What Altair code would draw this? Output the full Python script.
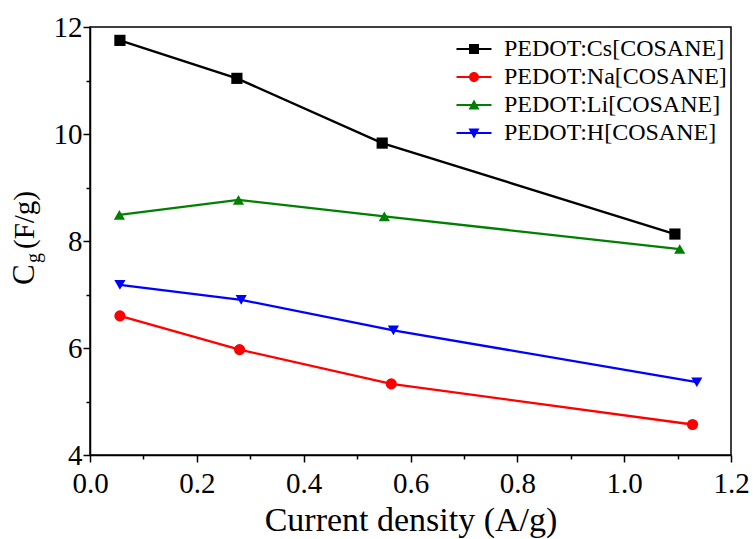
import altair as alt
import pandas as pd

# ---- data ----
series_names = ["PEDOT:Cs[COSANE]", "PEDOT:Na[COSANE]", "PEDOT:Li[COSANE]", "PEDOT:H[COSANE]"]
series_colors = ["#000000", "#FF0000", "#008000", "#0000FF"]
series_shapes = ["square", "circle", "triangle-up", "triangle-down"]

x_cs = [0.056, 0.275, 0.547, 1.095]
y_cs = [11.75, 11.04, 9.83, 8.13]
x_na = [0.056, 0.280, 0.564, 1.128]
y_na = [6.60, 5.97, 5.33, 4.57]
x_li = [0.055, 0.278, 0.551, 1.104]
y_li = [8.49, 8.77, 8.46, 7.85]
x_h = [0.056, 0.283, 0.568, 1.136]
y_h = [7.18, 6.90, 6.33, 5.36]

x_ticks = [0.0, 0.1, 0.2, 0.3, 0.4, 0.5, 0.6, 0.7, 0.8, 0.9, 1.0, 1.1, 1.2]
y_ticks = [4, 5, 6, 7, 8, 9, 10, 11, 12]

x_title = "Current density (A/g)"
y_title_main = ["C"]
y_title_sub = ["g"]
y_title_unit = ["(F/g)"]

# legend symbols: short line + marker (custom paths, unit box)
line_part = "M-1.75,-0.11H1.75V0.11H-1.75Z"
legend_paths = [
    line_part + "M-0.5,-0.5H0.5V0.5H-0.5Z",
    line_part + "M0.5,0A0.5,0.5 0 1,1 -0.5,0A0.5,0.5 0 1,1 0.5,0Z",
    line_part + "M0,-0.55L0.55,0.45L-0.55,0.45Z",
    line_part + "M0,0.55L-0.55,-0.45L0.55,-0.45Z",
]

rows = []
for name, xs, ys in zip(series_names, [x_cs, x_na, x_li, x_h], [y_cs, y_na, y_li, y_h]):
    for xv, yv in zip(xs, ys):
        rows.append({"series": name, "x": xv, "y": yv})
df = pd.DataFrame(rows)

FONT = "Liberation Serif"

x_enc = alt.X(
    "x:Q",
    scale=alt.Scale(domain=[0, 1.2], nice=False, zero=False),
    axis=alt.Axis(
        values=x_ticks,
        labelExpr="round(datum.value*10) % 2 == 0 ? format(datum.value, '.1f') : ''",
        tickSize={"condition": {"test": "round(datum.value*10) % 2 == 0", "value": 7}, "value": 4},
        title=x_title,
        titleFont=FONT,
        titleFontSize=34,
        titleFontWeight="normal",
        titleColor="#000",
        titlePadding=5,
        labelFont=FONT,
        labelFontSize=29,
        labelColor="#000",
        labelPadding=7,
        labelFlush=False,
        labelOverlap=False,
    ),
)
y_enc = alt.Y(
    "y:Q",
    scale=alt.Scale(domain=[4, 12], nice=False, zero=False),
    axis=alt.Axis(
        values=y_ticks,
        labelExpr="datum.value % 2 == 0 ? format(datum.value, 'd') : ''",
        tickSize={"condition": {"test": "datum.value % 2 == 0", "value": 7}, "value": 4},
        title=None,
        labelFont=FONT,
        labelFontSize=29,
        labelColor="#000",
        labelPadding=1,
        labelFlush=False,
        labelOverlap=False,
    ),
)

color_scale = alt.Scale(domain=series_names, range=series_colors)

lines = alt.Chart(df).mark_line(strokeWidth=2.3).encode(
    x=x_enc, y=y_enc,
    color=alt.Color("series:N", scale=color_scale, legend=None),
)
points = alt.Chart(df).mark_point(filled=True, size=125, opacity=1).encode(
    x="x:Q", y="y:Q",
    color=alt.Color("series:N", scale=color_scale, legend=None),
    shape=alt.Shape("series:N", scale=alt.Scale(domain=series_names, range=series_shapes), legend=None),
)

leg = alt.Legend(
    orient="none", legendX=372, legendY=10, title=None,
    symbolSize=400, symbolStrokeWidth=0,
    labelFont=FONT, labelFontSize=24, labelColor="#000", labelLimit=500,
    labelOffset=18, rowPadding=4, padding=0,
)
legend_layer = alt.Chart(df).transform_filter("false").mark_point(filled=True, opacity=1).encode(
    x="x:Q", y="y:Q",
    color=alt.Color("series:N", scale=alt.Scale(domain=series_names, range=series_colors), legend=leg),
    shape=alt.Shape("series:N", scale=alt.Scale(domain=series_names, range=legend_paths), legend=leg),
)

t_main = alt.Chart(pd.DataFrame({"t": y_title_main})).mark_text(
    font=FONT, fontSize=31, angle=270, align="left", baseline="alphabetic", color="#000"
).encode(text="t:N", x=alt.value(-56), y=alt.value(258))
t_sub = alt.Chart(pd.DataFrame({"t": y_title_sub})).mark_text(
    font=FONT, fontSize=20, angle=270, align="left", baseline="alphabetic", color="#000"
).encode(text="t:N", x=alt.value(-50), y=alt.value(236))
t_unit = alt.Chart(pd.DataFrame({"t": y_title_unit})).mark_text(
    font=FONT, fontSize=29, angle=270, align="left", baseline="alphabetic", color="#000"
).encode(text="t:N", x=alt.value(-56), y=alt.value(222))

chart = alt.layer(lines, points, legend_layer, t_main, t_sub, t_unit).resolve_scale(
    color="independent", shape="independent"
).properties(
    width=641, height=428,
    padding={"left": 90, "top": 27, "right": 22, "bottom": 84},
    autosize=alt.AutoSizeParams(type="none"),
).configure_view(
    stroke="#000", strokeWidth=1.5
).configure_axis(
    domainColor="#000", domainWidth=1.5, tickColor="#000", tickWidth=1.5, grid=False,
)

chart.save("out.html", embed_options={"renderer": "svg", "actions": False})
